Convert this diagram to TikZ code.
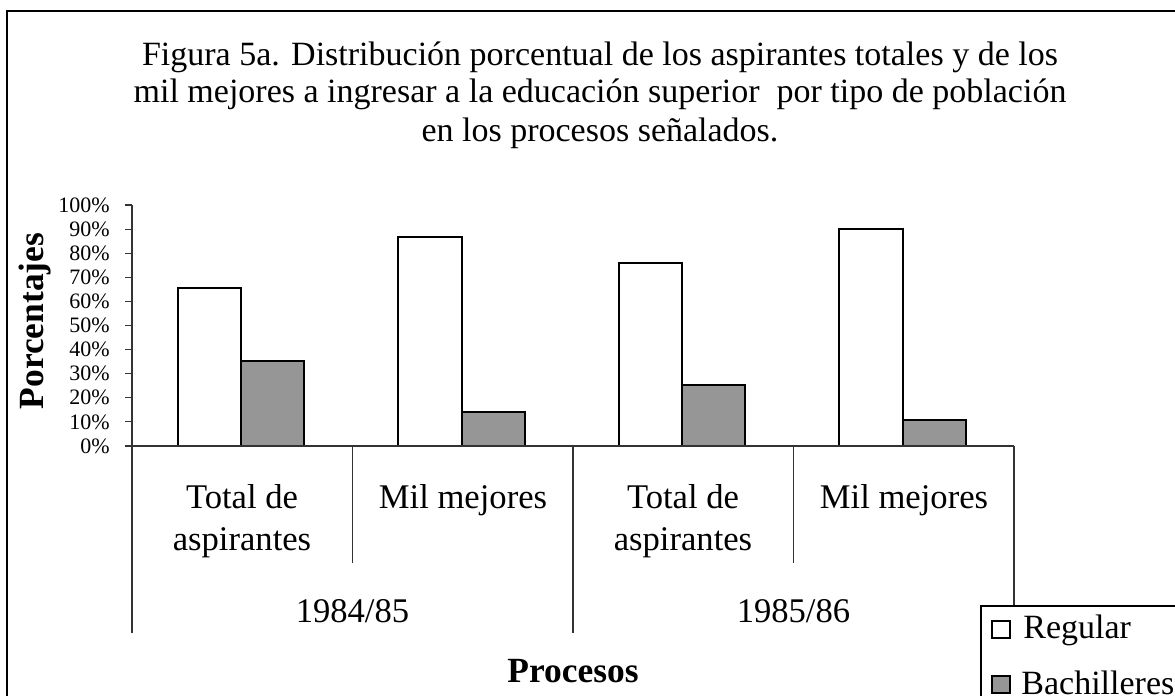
\documentclass[tikz,border=0pt]{standalone}
\usepackage{fontspec}
\setmainfont{Liberation Serif}
\definecolor{barGray}{RGB}{150,150,150}
\begin{document}
\begin{tikzpicture}[x=0.5pt,y=-0.5pt,
  barbox/.style={draw=black, line width=0.9pt},
  regbar/.style={barbox, fill=white},
  bachbar/.style={barbox, fill=barGray},
  axisline/.style={draw=black!80, line width=0.55pt},
  biglab/.style={font=\fontsize{17}{19}\selectfont, inner sep=0pt, anchor=base},
  catlab/.style={font=\fontsize{17.3}{19}\selectfont, inner sep=0pt, anchor=base},
  boldlab/.style={font=\fontsize{17.7}{19}\selectfont\bfseries, inner sep=0pt, anchor=base},
  ticklab/.style={font=\fontsize{11}{12}\selectfont, inner sep=0pt, anchor=east},
  legmark/.style={draw=black, line width=0.8pt},
]
\useasboundingbox (0,0) rectangle (1175,696);
\clip (0,0) rectangle (1175,696);
% outer frame
\draw[line width=0.8pt] (7,11) rectangle (1200,720);
% title
\node[biglab] (title1) at (600,65) {Figura 5a. Distribución porcentual de los aspirantes totales y de los};
\node[biglab] (title2) at (600,103) {mil mejores a ingresar a la educación superior\ \ por tipo de población};
\node[biglab] (title3) at (600,141) {en los procesos señalados.};
% bars
\draw[regbar]  (178,446) rectangle (241,288);
\draw[bachbar] (241,446) rectangle (304,361);
\draw[regbar]  (398,446) rectangle (462,237);
\draw[bachbar] (462,446) rectangle (525,412);
\draw[regbar]  (619,446) rectangle (682,263);
\draw[bachbar] (682,446) rectangle (745,385);
\draw[regbar]  (839,446) rectangle (903,229);
\draw[bachbar] (903,446) rectangle (966,420);
% y axis
\draw[axisline] (132,205) -- (132,633);
\foreach \v in {0,10,...,100}{
  \pgfmathsetmacro{\yy}{446-2.41*\v}
  \draw[axisline] (125,\yy) -- (132,\yy);
  \node[ticklab] (t\v) at (110,\yy) {\v\%};
}
% x axis and category separators
\draw[axisline] (125,446) -- (1014,446);
\draw[axisline] (352.5,446) -- (352.5,563);
\draw[axisline] (573,446) -- (573,633);
\draw[axisline] (793.5,446) -- (793.5,563);
\draw[axisline] (1014,446) -- (1014,640);
% axis titles
\node[boldlab, rotate=90] (ytitle) at (43,321) {Porcentajes};
\node[boldlab] (xtitle) at (573,682) {Procesos};
% category labels
\node[catlab] (c1a) at (242,508) {Total de};
\node[catlab] (c1b) at (242,550) {aspirantes};
\node[catlab] (c2) at (463,508) {Mil mejores};
\node[catlab] (c3a) at (683,508) {Total de};
\node[catlab] (c3b) at (683,550) {aspirantes};
\node[catlab] (c4) at (904,508) {Mil mejores};
\node[catlab] (g1) at (352.5,622) {1984/85};
\node[catlab] (g2) at (793.5,622) {1985/86};
% legend
\draw[line width=0.6pt, fill=white] (981,606) rectangle (1200,720);
\draw[legmark, fill=white] (992,621) rectangle (1010,638);
\draw[legmark, fill=barGray] (992,676) rectangle (1010,693);
\node[biglab, anchor=base west] (lreg) at (1023,638) {Regular};
\node[biglab, anchor=base west] (lbach) at (1021,694) {Bachilleres};
\end{tikzpicture}
\end{document}
